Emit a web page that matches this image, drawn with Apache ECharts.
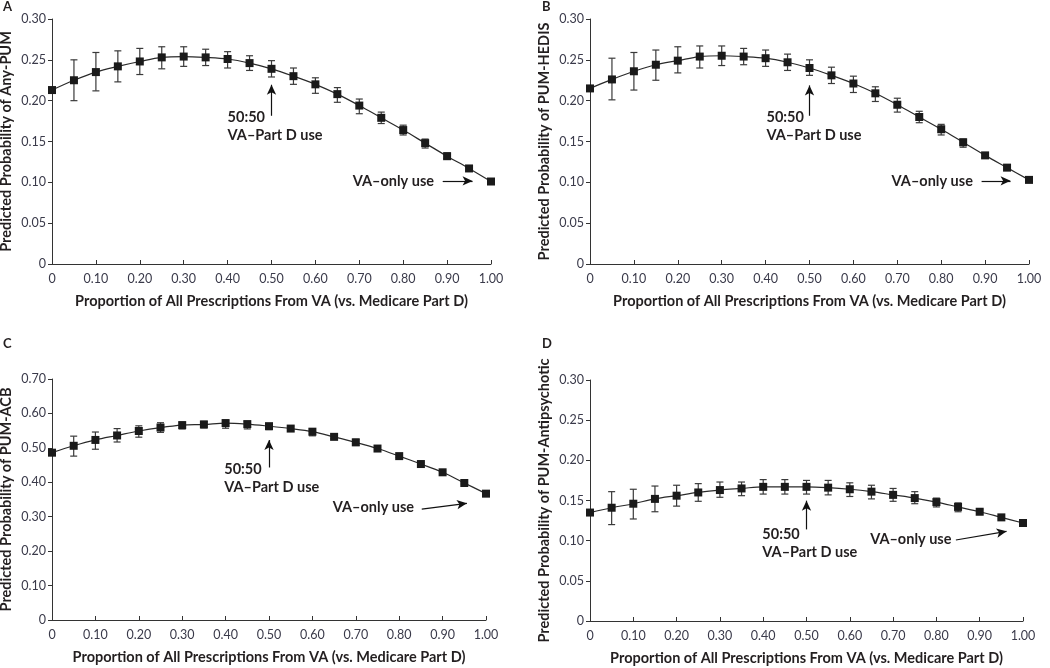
<!DOCTYPE html>
<html>
<head>
<meta charset="utf-8">
<script src="https://cdn.jsdelivr.net/npm/echarts@6/dist/echarts.min.js"></script>
<style>
html,body{margin:0;padding:0;background:#fff;}
#chart{width:1050px;height:668px;}
</style>
</head>
<body>
<div id="chart"></div>
<script>
// ---- Data ----
var xValues = [0,0.05,0.10,0.15,0.20,0.25,0.30,0.35,0.40,0.45,0.50,0.55,0.60,0.65,0.70,0.75,0.80,0.85,0.90,0.95,1.00];

var anyPUM     = [0.213,0.225,0.235,0.242,0.248,0.253,0.254,0.253,0.251,0.246,0.239,0.230,0.220,0.208,0.194,0.179,0.164,0.148,0.132,0.117,0.101];
var anyPUMLow  = [0.212,0.200,0.212,0.223,0.232,0.239,0.242,0.243,0.240,0.237,0.229,0.220,0.209,0.198,0.184,0.172,0.158,0.142,0.129,0.114,0.100];
var anyPUMHigh = [0.214,0.250,0.259,0.261,0.264,0.266,0.266,0.263,0.260,0.255,0.249,0.240,0.228,0.216,0.202,0.186,0.170,0.153,0.136,0.119,0.102];

var hedis      = [0.215,0.226,0.236,0.244,0.249,0.254,0.255,0.254,0.252,0.247,0.240,0.231,0.221,0.209,0.195,0.180,0.165,0.149,0.133,0.118,0.103];
var hedisLow   = [0.214,0.201,0.213,0.225,0.234,0.240,0.243,0.244,0.242,0.237,0.231,0.221,0.210,0.199,0.186,0.173,0.158,0.143,0.130,0.116,0.102];
var hedisHigh  = [0.216,0.252,0.259,0.262,0.266,0.267,0.267,0.264,0.262,0.257,0.250,0.241,0.230,0.217,0.203,0.187,0.171,0.153,0.136,0.120,0.104];

var acb        = [0.486,0.506,0.523,0.536,0.549,0.559,0.566,0.568,0.572,0.569,0.563,0.556,0.547,0.532,0.516,0.498,0.476,0.453,0.429,0.398,0.367];
var acbLow     = [0.484,0.476,0.496,0.517,0.531,0.545,0.555,0.558,0.557,0.555,0.553,0.549,0.535,0.527,0.507,0.493,0.472,0.449,0.425,0.395,0.365];
var acbHigh    = [0.488,0.534,0.546,0.556,0.564,0.573,0.575,0.577,0.580,0.577,0.570,0.563,0.555,0.538,0.525,0.503,0.480,0.457,0.433,0.401,0.369];

var antipsy     = [0.135,0.141,0.146,0.152,0.156,0.160,0.163,0.165,0.167,0.167,0.167,0.166,0.164,0.161,0.157,0.153,0.148,0.142,0.136,0.129,0.122];
var antipsyLow  = [0.134,0.120,0.127,0.136,0.143,0.149,0.154,0.156,0.158,0.158,0.158,0.157,0.155,0.152,0.149,0.146,0.142,0.136,0.133,0.127,0.121];
var antipsyHigh = [0.136,0.161,0.164,0.168,0.169,0.171,0.173,0.173,0.176,0.176,0.175,0.175,0.172,0.169,0.165,0.161,0.153,0.147,0.139,0.131,0.123];

var panelLetters = ['A','B','C','D'];
var yTitles = ['Predicted Probability of Any-PUM','Predicted Probability of PUM-HEDIS','Predicted Probability of PUM-ACB','Predicted Probability of PUM-Antipsychotic'];
var xTitle = 'Proportion of All Prescriptions From VA (vs. Medicare Part D)';
var yMax = [0.30,0.30,0.70,0.30];
var yInterval = [0.05,0.05,0.10,0.05];

// annotations (data coordinates)
var noteFifty = [[0.40,0.180,0.158],[0.402,0.180,0.158],[0.397,0.437,0.385],[0.398,0.1075,0.0851]];
var arrowFifty = [[0.5,0.1815,0.2195],[0.5,0.1815,0.2187],[0.5,0.443,0.5226],[0.5,0.114,0.1498]];
var noteOnly = [[0.685,0.1017],[0.687,0.1018],[0.647,0.3287],[0.647,0.102]];
var arrowOnly = [[0.89,0.1017,0.958,0.1017],[0.892,0.1018,0.958,0.1018],[0.852,0.322,0.956,0.339],[0.845,0.1008,0.962,0.1116]];

var means = [anyPUM,hedis,acb,antipsy];
var lows = [anyPUMLow,hedisLow,acbLow,antipsyLow];
var highs = [anyPUMHigh,hedisHigh,acbHigh,antipsyHigh];

// ---- Layout ----
var grids = [
  {left:52, width:439, top:19, height:245},
  {left:590, width:439, top:19, height:245},
  {left:52, width:434, top:379, height:241},
  {left:590, width:433, top:380, height:241}
];
var FONT = 'Lato';
var TXT = '#231f20';

var option = {
  animation:false,
  backgroundColor:'#fff',
  textStyle:{fontFamily:FONT},
  grid: grids.map(function(g){return Object.assign({outerBoundsMode:'none', containLabel:false}, g);}),
  xAxis: grids.map(function(g,i){
    return {
      type:'value', gridIndex:i, min:0, max:1, interval:0.1,
      name:xTitle, nameLocation:'middle', nameGap:30,
      nameTextStyle:{fontFamily:FONT, fontSize:14.5, fontWeight:'bold', color:TXT},
      axisLine:{show:true, onZero:false, lineStyle:{color:'#333', width:1}},
      axisTick:{show:true, inside:true, length:4, lineStyle:{color:'#333'}},
      axisLabel:{fontFamily:FONT, fontSize:12.5, color:'#3a3a4a', margin:8,
        formatter:function(v){return v===0?'0':v.toFixed(2);}},
      splitLine:{show:false}
    };
  }),
  yAxis: grids.map(function(g,i){
    return {
      type:'value', gridIndex:i, min:0, max:yMax[i], interval:yInterval[i],
      name:yTitles[i], nameLocation:'middle', nameGap:38, nameRotate:90,
      nameTextStyle:{fontFamily:FONT, fontSize:14.5, fontWeight:'bold', color:TXT},
      axisLine:{show:true, onZero:false, lineStyle:{color:'#333', width:1}},
      axisTick:{show:true, inside:false, length:4, lineStyle:{color:'#333'}},
      axisLabel:{fontFamily:FONT, fontSize:12.5, color:'#3a3a4a', margin:6,
        formatter:function(v){return v===0?'0':v.toFixed(2);}},
      splitLine:{show:false}
    };
  }),
  graphic: panelLetters.map(function(l,i){
    var pos = [[3,0],[542,0],[3,337],[542,337]][i];
    return {type:'text', left:pos[0], top:pos[1], style:{text:l, font:'bold 13px '+FONT, fill:TXT}};
  }),
  series: []
};

for (var i=0;i<4;i++){
  (function(i){
    var errData = xValues.map(function(x,k){return [x, lows[i][k], highs[i][k]];});
    option.series.push({
      type:'custom', xAxisIndex:i, yAxisIndex:i, data:errData, z:2,
      renderItem:function(params, api){
        var x = api.value(0);
        var lo = api.coord([x, api.value(1)]);
        var hi = api.coord([x, api.value(2)]);
        var w = 3.5;
        var st = {stroke:'#3a3a3a', lineWidth:1.2};
        return {type:'group', children:[
          {type:'line', shape:{x1:lo[0],y1:lo[1],x2:hi[0],y2:hi[1]}, style:st},
          {type:'line', shape:{x1:lo[0]-w,y1:lo[1],x2:lo[0]+w,y2:lo[1]}, style:st},
          {type:'line', shape:{x1:hi[0]-w,y1:hi[1],x2:hi[0]+w,y2:hi[1]}, style:st}
        ]};
      }
    });
    option.series.push({
      type:'line', xAxisIndex:i, yAxisIndex:i, z:3,
      data: xValues.map(function(x,k){return [x, means[i][k]];}),
      smooth:0.35, symbol:'rect', symbolSize:8, showSymbol:true,
      lineStyle:{color:'#2a2a2a', width:1.2},
      itemStyle:{color:'#1a1a1a', borderWidth:0},
      markLine:{
        silent:true, symbol:['none','arrow'], symbolSize:[7,10],
        lineStyle:{color:'#111', width:1.2, type:'solid'},
        label:{show:false},
        data:[
          [{coord:[arrowFifty[i][0], arrowFifty[i][1]]},{coord:[arrowFifty[i][0], arrowFifty[i][2]]}],
          [{coord:[arrowOnly[i][0], arrowOnly[i][1]]},{coord:[arrowOnly[i][2], arrowOnly[i][3]]}]
        ]
      }
    });
    option.series.push({
      type:'custom', xAxisIndex:i, yAxisIndex:i, z:4, silent:true,
      data:[[noteFifty[i][0], noteFifty[i][1], '50:50'],[noteFifty[i][0], noteFifty[i][2], 'VA\u2013Part D use'],[noteOnly[i][0], noteOnly[i][1], 'VA\u2013only use']],
      renderItem:function(params, api){
        var p = api.coord([api.value(0), api.value(1)]);
        return {type:'text', x:p[0], y:p[1], style:{text:api.value(2), font:'bold 14.5px '+FONT, fill:TXT, textAlign:'left', textVerticalAlign:'middle'}};
      }
    });
  })(i);
}

var chart = echarts.init(document.getElementById('chart'), null, {renderer:'canvas'});
chart.setOption(option);
</script>
</body>
</html>
